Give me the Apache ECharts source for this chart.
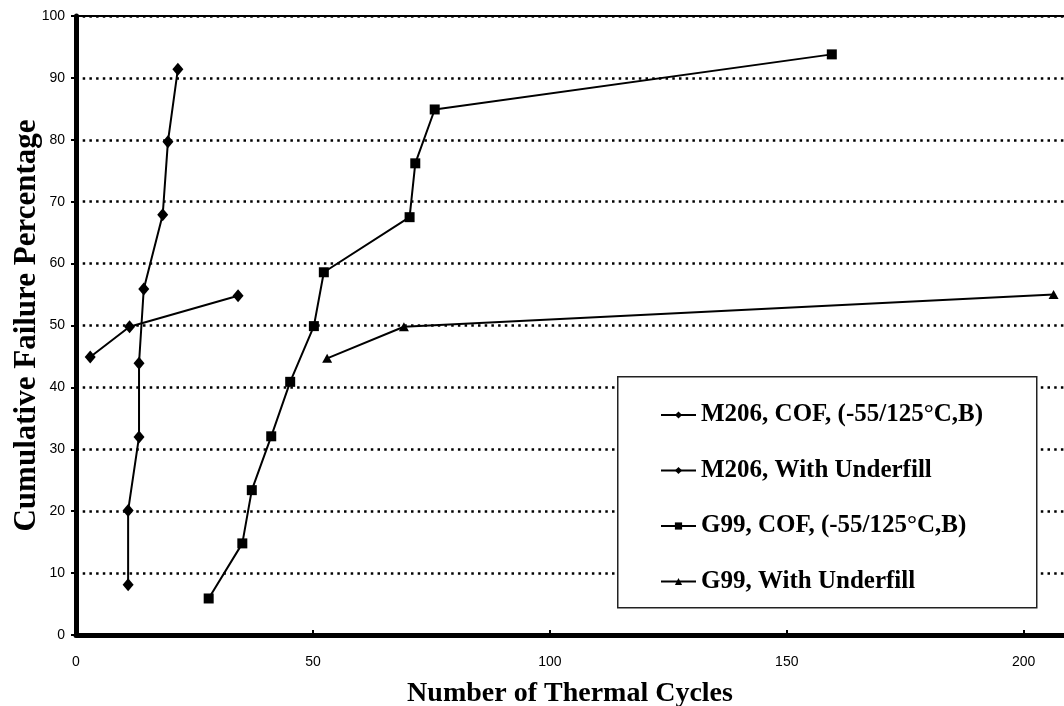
<!DOCTYPE html>
<html>
<head>
<meta charset="utf-8">
<script src="https://cdn.jsdelivr.net/npm/echarts@6/dist/echarts.min.js"></script>
<style>
html,body{margin:0;padding:0;background:#fff;}
#chart{width:1064px;height:706px;}
</style>
</head>
<body>
<div id="chart"></div>
<script>
// Series names (legend order)
const seriesNames = [
  'M206, COF, (-55/125°C,B)',
  'M206, With Underfill',
  'G99, COF, (-55/125°C,B)',
  'G99, With Underfill'
];
// M206, COF
const m206CofX = [11.0, 11.0, 13.3, 13.3, 14.3, 18.3, 19.4, 21.5];
const m206CofY = [8.1, 20.1, 32.0, 43.9, 55.9, 67.9, 79.7, 91.4];
// M206, With Underfill
const m206UfX = [3.0, 11.3, 34.2];
const m206UfY = [44.9, 49.8, 54.8];
// G99, COF
const g99CofX = [28.0, 35.1, 37.1, 41.2, 45.2, 50.2, 52.3, 70.4, 71.6, 75.7, 159.5];
const g99CofY = [5.9, 14.8, 23.4, 32.1, 40.9, 49.9, 58.6, 67.5, 76.2, 84.9, 93.8];
// G99, With Underfill
const g99UfX = [53.0, 69.2, 206.3];
const g99UfY = [44.7, 49.8, 55.0];

const xMin = 0, xMax = 208.5, xInterval = 50;
const yMin = 0, yMax = 100, yInterval = 10;

function pairs(xs, ys){ return xs.map((x,i)=>[x, ys[i]]); }

const chart = echarts.init(document.getElementById('chart'), null, {renderer:'canvas'});

const serif = '"Liberation Serif", "Times New Roman", serif';
const sans = '"Liberation Sans", Arial, sans-serif';

const lineSeries = (name, data, symbol, size) => ({
  name, type:'line', data, symbol, symbolSize:size,
  xAxisIndex:0, yAxisIndex:0,
  lineStyle:{color:'#000', width:2},
  itemStyle:{color:'#000'},
  showSymbol:true, z:5
});

chart.setOption({
  animation:false,
  backgroundColor:'#fff',
  grid:{left:76, right:0, top:16, bottom:71, outerBoundsMode:'none', containLabel:false},
  xAxis:[{
    type:'value', min:xMin, max:xMax, interval:xInterval,
    name:'Number of Thermal Cycles', nameLocation:'middle', nameGap:45, nameMoveOverlap:false,
    nameTextStyle:{fontFamily:serif, fontWeight:'bold', fontSize:28, color:'#000'},
    axisLine:{show:true, onZero:false, lineStyle:{color:'#000', width:5}},
    axisTick:{show:true, inside:true, length:5, lineStyle:{color:'#000', width:2}},
    axisLabel:{color:'#000', fontFamily:sans, fontSize:14, margin:20, showMaxLabel:false},
    splitLine:{show:false}
  },{
    type:'value', min:xMin, max:xMax, position:'top',
    axisLine:{show:true, onZero:false, lineStyle:{color:'#000', width:2}},
    axisTick:{show:false}, axisLabel:{show:false}, splitLine:{show:false}
  }],
  yAxis:{
    type:'value', min:yMin, max:yMax, interval:yInterval,
    name:'Cumulative Failure Percentage', nameLocation:'middle', nameGap:34, nameMoveOverlap:false,
    nameTextStyle:{fontFamily:serif, fontWeight:'bold', fontSize:31, color:'#000'},
    axisLine:{show:true, onZero:false, lineStyle:{color:'#000', width:5}},
    axisTick:{show:true, inside:false, length:5, lineStyle:{color:'#000', width:2}},
    axisLabel:{color:'#000', fontFamily:sans, fontSize:14, margin:11},
    splitLine:{show:true, lineStyle:{color:'#000', width:2.5, type:[2.5,4.2]}}
  },
  legend:{
    show:true, orient:'vertical', left:655, top:397,
    data:seriesNames,
    itemWidth:35, itemHeight:9, itemGap:29.5,
    textStyle:{fontFamily:serif, fontWeight:'bold', fontSize:25, color:'#000', lineHeight:26},
    selectedMode:false, z:10
  },
  graphic:[{
    type:'rect', left:617, top:376, z:8,
    shape:{width:419, height:231},
    style:{fill:'#fff', stroke:'#222', lineWidth:1.5}
  }],
  series:[
    lineSeries(seriesNames[0], pairs(m206CofX, m206CofY), 'diamond', [11,13]),
    lineSeries(seriesNames[1], pairs(m206UfX, m206UfY), 'diamond', [11,13]),
    lineSeries(seriesNames[2], pairs(g99CofX, g99CofY), 'rect', 10),
    lineSeries(seriesNames[3], pairs(g99UfX, g99UfY), 'triangle', [10,9])
  ]
});
</script>
</body>
</html>
